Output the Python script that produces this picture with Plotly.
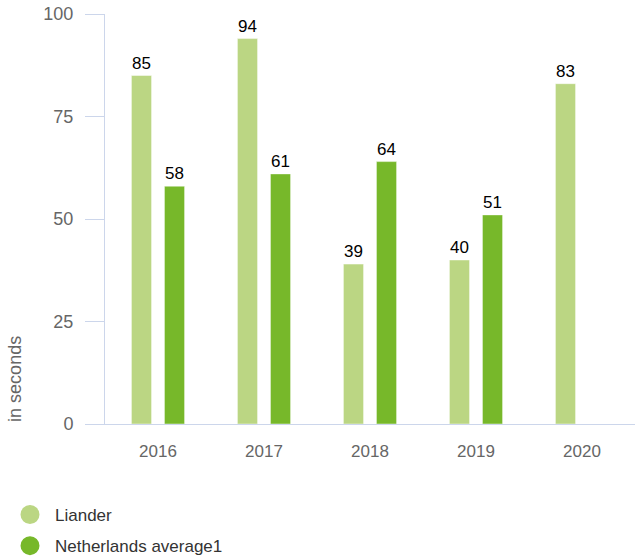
import plotly.graph_objects as go

# Yearly values, in seconds
years = ["2016", "2017", "2018", "2019", "2020"]
liander = [85, 94, 39, 40, 83]
netherlands_avg = [58, 61, 64, 51, None]
y_ticks = [0, 25, 50, 75, 100]

LIGHT = "#bbd683"
DARK = "#77b82a"
AXIS = "#ccd6eb"
FONT = "Liberation Sans, Arial, sans-serif"

fig = go.Figure()

for name, vals, color in [("Liander", liander, LIGHT),
                          ("Netherlands average1", netherlands_avg, DARK)]:
    fig.add_trace(go.Bar(
        x=years, y=vals, name=name,
        marker=dict(color=color, line=dict(color="rgba(255,255,255,0.45)", width=1)),
        text=[("" if v is None else str(v)) for v in vals],
        textposition="outside", cliponaxis=False, constraintext="none",
        textfont=dict(family=FONT, size=17, color="#000000"),
        showlegend=False, hoverinfo="x+y",
    ))
    # round legend swatches
    fig.add_trace(go.Scatter(
        x=[None], y=[None], mode="markers", name=name, legendgroup=name,
        marker=dict(symbol="circle", size=16, color=color,
                    line=dict(color=color, width=3)),
    ))

fig.update_layout(
    width=635, height=559,
    margin=dict(l=105, r=0, t=14, b=135, autoexpand=False),
    paper_bgcolor="white", plot_bgcolor="white",
    barmode="group", bargap=0.377, bargroupgap=0.39,
    font=dict(family=FONT, size=17, color="#666666"),
    showlegend=True,
    legend=dict(
        xref="container", yref="container",
        x=5 / 635, y=1 - 497 / 559, xanchor="left", yanchor="top",
        font=dict(family=FONT, size=17, color="#333333"),
        tracegroupgap=6, itemwidth=40,
    ),
    xaxis=dict(
        type="category", showline=True, linecolor=AXIS, linewidth=1,
        ticks="", showgrid=False, ticklabelstandoff=12,
        tickfont=dict(family=FONT, size=17, color="#666666"),
    ),
    yaxis=dict(
        range=[0, 100], tickvals=y_ticks, showline=True, linecolor=AXIS,
        linewidth=1, ticks="outside", ticklen=19, tickcolor=AXIS,
        showgrid=False, zeroline=False, ticklabelstandoff=8,
        tickfont=dict(family=FONT, size=18, color="#666666"),
    ),
    annotations=[dict(
        text="in seconds", textangle=-90, showarrow=False,
        xref="paper", yref="paper", x=-0.17, xanchor="center",
        y=0.0, yanchor="bottom",
        font=dict(family=FONT, size=18, color="#666666"),
    )],
)

fig.write_html("out.html")
